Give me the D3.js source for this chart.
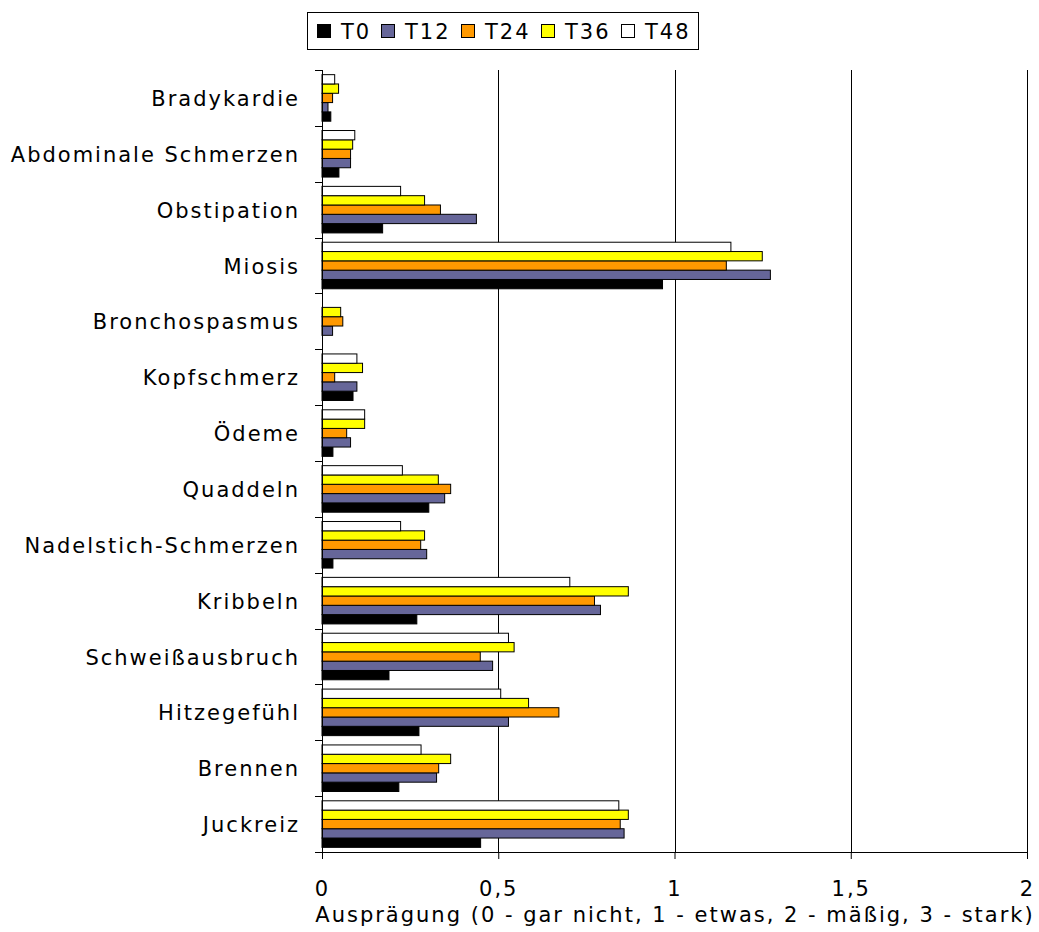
<!DOCTYPE html>
<html>
<head>
<meta charset="utf-8">
<script src="https://cdn.jsdelivr.net/npm/d3@7"></script>
<style>
  html, body { margin: 0; padding: 0; background: #fff; }
  svg text { font-family: "DejaVu Sans", Verdana, sans-serif; fill: #000; }
</style>
</head>
<body>
<svg id="chart" width="1039" height="932"></svg>
<script>
const categories = ["Bradykardie", "Abdominale Schmerzen", "Obstipation", "Miosis", "Bronchospasmus",
  "Kopfschmerz", "Ödeme", "Quaddeln", "Nadelstich-Schmerzen", "Kribbeln", "Schweißausbruch",
  "Hitzegefühl", "Brennen", "Juckreiz"];
const seriesNames = ["T0", "T12", "T24", "T36", "T48"];
const seriesColors = ["#000000", "#666699", "#FF9900", "#FFFF00", "#FFFFFF"];
const T0  = [0.025, 0.048, 0.172, 0.966, 0,     0.088, 0.031, 0.303, 0.031, 0.269, 0.190, 0.275, 0.218, 0.450];
const T12 = [0.017, 0.081, 0.438, 1.272, 0.030, 0.099, 0.081, 0.348, 0.297, 0.790, 0.484, 0.529, 0.325, 0.857];
const T24 = [0.030, 0.081, 0.336, 1.147, 0.059, 0.036, 0.070, 0.365, 0.280, 0.773, 0.449, 0.672, 0.331, 0.846];
const T36 = [0.047, 0.087, 0.291, 1.249, 0.053, 0.115, 0.121, 0.330, 0.291, 0.869, 0.545, 0.586, 0.365, 0.869];
const T48 = [0.036, 0.093, 0.223, 1.160, 0,     0.099, 0.121, 0.228, 0.223, 0.703, 0.529, 0.507, 0.281, 0.842];
const seriesValues = [T0, T12, T24, T36, T48];
const xTicks = [0, 0.5, 1, 1.5, 2];
const xTickLabels = ["0", "0,5", "1", "1,5", "2"];
const xTitle = "Ausprägung (0 - gar nicht, 1 - etwas, 2 - mäßig, 3 - stark)";

(function () {
const svg = d3.select("#chart");
const pLeft = 322, pRight = 1027, pTop = 70, pBottom = 852;
const FS = 21, LS = "2px";

const x = d3.scaleLinear().domain([0, 2]).range([pLeft, pRight]);
const y0 = d3.scaleBand().domain(categories).range([pTop, pBottom]).paddingInner(1/6).paddingOuter(1/12);
const y1 = d3.scaleBand().domain(["T48", "T36", "T24", "T12", "T0"]).range([0, y0.bandwidth()]);
const color = d3.scaleOrdinal().domain(seriesNames).range(seriesColors);

// gridlines
svg.append("g").selectAll("line").data(xTicks.filter(d => d > 0)).join("line")
  .attr("x1", d => Math.round(x(d)) + 0.5).attr("x2", d => Math.round(x(d)) + 0.5)
  .attr("y1", pTop).attr("y2", pBottom)
  .attr("stroke", "#000").attr("stroke-width", 1);

// bars
const rows = [];
categories.forEach((c, i) => seriesNames.forEach((s, j) => rows.push({cat: c, s, v: seriesValues[j][i]})));
svg.append("g").selectAll("rect").data(rows.filter(r => r.v > 0)).join("rect")
  .attr("x", x(0))
  .attr("y", d => y0(d.cat) + y1(d.s))
  .attr("width", d => x(d.v) - x(0))
  .attr("height", y1.bandwidth())
  .attr("fill", d => color(d.s))
  .attr("stroke", "#000").attr("stroke-width", 1);

// y axis line and ticks at band boundaries
svg.append("line").attr("x1", pLeft + 0.5).attr("x2", pLeft + 0.5).attr("y1", pTop).attr("y2", pBottom)
  .attr("stroke", "#000");
const yBounds = categories.map(c => y0(c) - y0.step() * y0.paddingOuter()).concat([pBottom]);
svg.append("g").selectAll("line").data(yBounds).join("line")
  .attr("x1", pLeft - 7).attr("x2", pLeft)
  .attr("y1", d => Math.round(d) + 0.5).attr("y2", d => Math.round(d) + 0.5)
  .attr("stroke", "#000");

// category labels
svg.append("g").selectAll("text").data(categories).join("text")
  .attr("x", 300).attr("y", d => y0(d) + y0.bandwidth() / 2 + 8)
  .attr("text-anchor", "end")
  .style("font-size", FS + "px").style("letter-spacing", LS)
  .text(d => d);

// x axis
const xAxis = d3.axisBottom(x).tickValues(xTicks).tickFormat((d, i) => xTickLabels[i]).tickSize(7).tickPadding(22);
const gx = svg.append("g").attr("transform", `translate(0,${pBottom})`).call(xAxis);
gx.select(".domain").attr("stroke", "#000");
gx.selectAll("line").attr("stroke", "#000");
gx.selectAll("text").style("font-size", FS + "px").style("letter-spacing", LS)
  .style("font-family", '"DejaVu Sans", Verdana, sans-serif').attr("fill", "#000");

svg.append("text").attr("x", 675).attr("y", 922).attr("text-anchor", "middle")
  .style("font-size", FS + "px").style("letter-spacing", LS).text(xTitle);

// legend
const lg = svg.append("g");
lg.append("rect").attr("x", 307.5).attr("y", 12.5).attr("width", 391).attr("height", 37)
  .attr("fill", "#fff").attr("stroke", "#000");
const legX = [317, 381, 461, 541, 621];
seriesNames.forEach((s, i) => {
  lg.append("rect").attr("x", legX[i] + 0.5).attr("y", 24.5).attr("width", 13).attr("height", 13)
    .attr("fill", color(s)).attr("stroke", "#000");
  lg.append("text").attr("x", legX[i] + 24).attr("y", 39)
    .style("font-size", FS + "px").style("letter-spacing", LS).text(s);
});
})();
</script>
</body>
</html>
